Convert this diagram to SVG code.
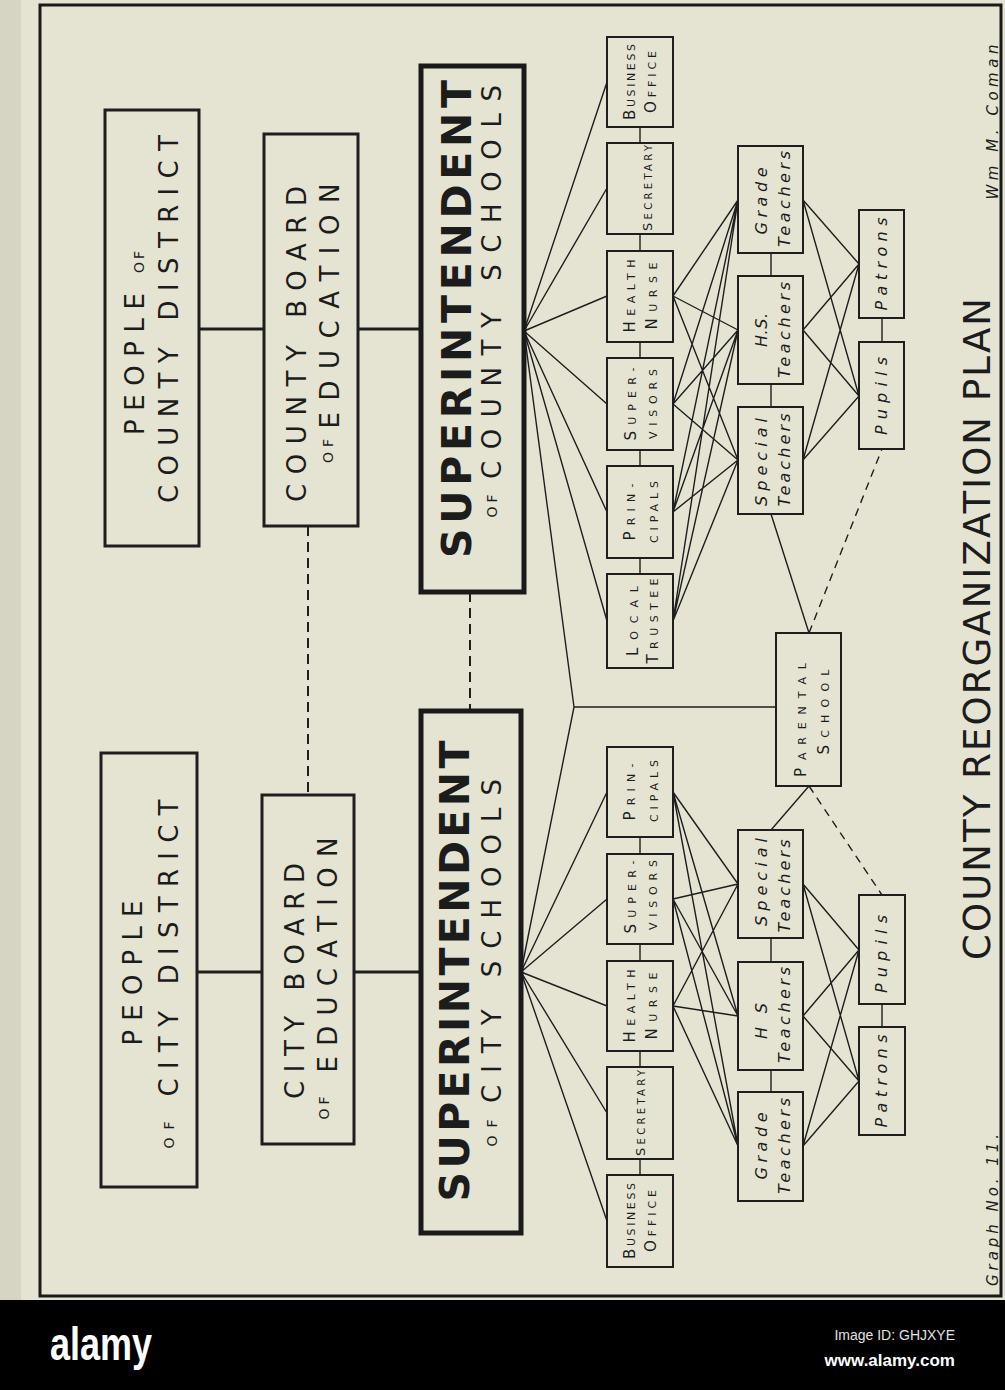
<svg xmlns="http://www.w3.org/2000/svg" width="1005" height="1390" viewBox="0 0 1005 1390">
<style>
text{font-family:"DejaVu Sans","Liberation Sans",sans-serif;fill:#1c1c1c;text-anchor:middle}
.big{font-size:26px}
.of{font-size:14px}
.sup{font-size:41px;font-weight:bold}
.sc{font-size:11px}
.ic{font-size:15px}
.it{font-size:16px;font-style:italic}
.sig{font-size:15px;font-style:italic}
.ttl{font-size:37px}
.box{fill:none;stroke:#1e1e1e;stroke-width:2}
.bbox{fill:none;stroke:#1e1e1e;stroke-width:3}
.sbox{fill:none;stroke:#1a1a1a;stroke-width:5}
.ln{stroke:#1e1e1e;stroke-width:1.4;fill:none}
.thk{stroke:#1e1e1e;stroke-width:3;fill:none}
.dash{stroke:#1e1e1e;stroke-width:2;stroke-dasharray:10 6;fill:none}
.dash2{stroke:#1e1e1e;stroke-width:1.4;stroke-dasharray:8 6;fill:none}
</style>
<rect x="0" y="0" width="1005" height="1390" fill="#e5e4d3"/>
<rect x="0" y="0" width="21" height="1300" fill="#d6d4c3"/>
<rect x="40" y="5" width="961" height="1291" fill="none" stroke="#1a1a1a" stroke-width="3"/>

<g id="connectors">
  <line class="thk" x1="199" y1="329" x2="264" y2="329"/>
  <line class="thk" x1="358" y1="329" x2="421" y2="329"/>
  <line class="thk" x1="197" y1="972" x2="262" y2="972"/>
  <line class="thk" x1="354" y1="972" x2="421" y2="972"/>
  <line class="dash" x1="308" y1="526" x2="308" y2="795"/>
  <line class="dash" x1="470" y1="592" x2="470" y2="711"/>
  <!-- county fan -->
  <path class="ln" d="M524 331L607 82M524 331L607 188M524 331L607 296M524 331L607 404M524 331L607 512M524 331L607 621M524 331L574 707"/>
  <!-- city fan -->
  <path class="ln" d="M521 972L607 792M521 972L607 899M521 972L607 1006M521 972L607 1113M521 972L607 1221M521 972L574 707"/>
  <line class="ln" x1="574" y1="707" x2="776" y2="707"/>
  <!-- column chains -->
  <path class="ln" d="M640 127V143M640 234V251M640 342V358M640 450V466M640 558V574M640 837V854M640 944V961M640 1051V1067M640 1159V1175"/>
  <path class="ln" d="M771 253V276M771 384V407M771 938V962M771 1070V1092M882 318V342M882 1004V1027"/>
  <!-- county cross links -->
  <path class="ln" d="M673 296L738 200M673 296L738 330M673 296L738 460M673 404L738 200M673 404L738 330M673 404L738 460M673 512L738 200M673 512L738 330M673 512L738 460M673 621L738 200M673 621L738 330M673 621L738 460"/>
  <path class="ln" d="M803 200L859 264M803 200L859 396M803 330L859 264M803 330L859 396M803 460L859 264M803 460L859 396"/>
  <!-- city cross links -->
  <path class="ln" d="M673 792L738 884M673 792L738 1016M673 792L738 1146M673 899L738 884M673 899L738 1016M673 899L738 1146M673 1006L738 884M673 1006L738 1016M673 1006L738 1146"/>
  <path class="ln" d="M803 884L859 950M803 884L859 1081M803 1016L859 950M803 1016L859 1081M803 1146L859 950M803 1146L859 1081"/>
  <!-- parental school -->
  <line class="ln" x1="771" y1="514" x2="809" y2="633"/>
  <line class="dash2" x1="809" y1="633" x2="882" y2="449"/>
  <line class="ln" x1="809" y1="786" x2="771" y2="830"/>
  <line class="dash2" x1="809" y1="786" x2="882" y2="895"/>
</g>

<g id="people-county">
  <rect class="bbox" x="105" y="110" width="94" height="436"/>
  <text class="big" transform="translate(144,364) rotate(-90)" textLength="142">PEOPLE</text>
  <text class="of" transform="translate(144,262) rotate(-90)" textLength="22">OF</text>
  <text class="big" transform="translate(178,319) rotate(-90)" textLength="368">COUNTY DISTRICT</text>
</g>
<g id="county-board">
  <rect class="bbox" x="264" y="134" width="94" height="392"/>
  <text class="big" transform="translate(306,344) rotate(-90)" textLength="316">COUNTY BOARD</text>
  <text class="of" transform="translate(333,451) rotate(-90)" textLength="24">OF</text>
  <text class="big" transform="translate(339,306) rotate(-90)" textLength="245">EDUCATION</text>
</g>
<g id="county-superintendent">
  <rect class="sbox" x="421" y="66" width="103" height="526"/>
  <text class="sup" transform="translate(471,319) rotate(-90)" textLength="478">SUPERINTENDENT</text>
  <text class="of" transform="translate(497,506) rotate(-90)" textLength="23">OF</text>
  <text class="big" transform="translate(501,282) rotate(-90)" textLength="394">COUNTY SCHOOLS</text>
</g>
<g id="people-city">
  <rect class="bbox" x="101" y="753" width="96" height="434"/>
  <text class="big" transform="translate(142,973) rotate(-90)" textLength="145">PEOPLE</text>
  <text class="of" transform="translate(174,1135) rotate(-90)" textLength="27">OF</text>
  <text class="big" transform="translate(178,948) rotate(-90)" textLength="297">CITY DISTRICT</text>
</g>
<g id="city-board">
  <rect class="bbox" x="262" y="795" width="92" height="349"/>
  <text class="big" transform="translate(304,981) rotate(-90)" textLength="236">CITY BOARD</text>
  <text class="of" transform="translate(329,1108) rotate(-90)" textLength="23">OF</text>
  <text class="big" transform="translate(337,955) rotate(-90)" textLength="235">EDUCATION</text>
</g>
<g id="city-superintendent">
  <rect class="sbox" x="421" y="711" width="100" height="522"/>
  <text class="sup" transform="translate(469,971) rotate(-90)" textLength="461">SUPERINTENDENT</text>
  <text class="of" transform="translate(497,1133) rotate(-90)" textLength="27">OF</text>
  <text class="big" transform="translate(501,941) rotate(-90)" textLength="324">CITY SCHOOLS</text>
</g>

<!-- county column 1 -->
<g id="county-business-office">
  <rect class="box" x="607" y="37" width="66" height="90"/>
  <text class="sc" transform="translate(635,82) rotate(-90)" textLength="76"><tspan class="ic">B</tspan>USINESS</text>
  <text class="sc" transform="translate(656,82) rotate(-90)" textLength="62"><tspan class="ic">O</tspan>FFICE</text>
</g>
<g id="county-secretary">
  <rect class="box" x="607" y="143" width="66" height="91"/>
  <text class="sc" style="font-size:10px" transform="translate(652,188) rotate(-90)" textLength="86"><tspan style="font-size:13px">S</tspan>ECRETARY</text>
</g>
<g id="county-health-nurse">
  <rect class="box" x="607" y="251" width="66" height="91"/>
  <text class="sc" transform="translate(635,296) rotate(-90)" textLength="73"><tspan class="ic">H</tspan>EALTH</text>
  <text class="sc" transform="translate(657,296) rotate(-90)" textLength="67"><tspan class="ic">N</tspan>URSE</text>
</g>
<g id="county-supervisors">
  <rect class="box" x="607" y="358" width="66" height="92"/>
  <text class="sc" transform="translate(636,404) rotate(-90)" textLength="73"><tspan class="ic">S</tspan>UPER-</text>
  <text class="sc" transform="translate(657,404) rotate(-90)" textLength="70">VISORS</text>
</g>
<g id="county-principals">
  <rect class="box" x="607" y="466" width="66" height="92"/>
  <text class="sc" transform="translate(635,512) rotate(-90)" textLength="57"><tspan class="ic">P</tspan>RIN-</text>
  <text class="sc" transform="translate(658,512) rotate(-90)" textLength="62">CIPALS</text>
</g>
<g id="county-local-trustee">
  <rect class="box" x="607" y="574" width="66" height="94"/>
  <text class="sc" transform="translate(638,621) rotate(-90)" textLength="70"><tspan class="ic">L</tspan>OCAL</text>
  <text class="sc" transform="translate(658,621) rotate(-90)" textLength="85"><tspan class="ic">T</tspan>RUSTEE</text>
</g>

<!-- county column 2 -->
<g id="county-grade-teachers">
  <rect class="box" x="738" y="146" width="65" height="107"/>
  <text class="it" transform="translate(767,201) rotate(-90)" textLength="67">Grade</text>
  <text class="it" transform="translate(790,199) rotate(-90)" textLength="96">Teachers</text>
</g>
<g id="county-hs-teachers">
  <rect class="box" x="738" y="276" width="65" height="108"/>
  <text class="it" transform="translate(767,330) rotate(-90)" textLength="34">H.S.</text>
  <text class="it" transform="translate(790,330) rotate(-90)" textLength="96">Teachers</text>
</g>
<g id="county-special-teachers">
  <rect class="box" x="738" y="407" width="65" height="107"/>
  <text class="it" transform="translate(767,462) rotate(-90)" textLength="88">Special</text>
  <text class="it" transform="translate(790,460) rotate(-90)" textLength="93">Teachers</text>
</g>
<!-- county column 3 -->
<g id="county-patrons">
  <rect class="box" x="859" y="210" width="45" height="108"/>
  <text class="it" transform="translate(887,264) rotate(-90)" textLength="93">Patrons</text>
</g>
<g id="county-pupils">
  <rect class="box" x="859" y="342" width="45" height="107"/>
  <text class="it" transform="translate(887,396) rotate(-90)" textLength="78">Pupils</text>
</g>

<g id="parental-school">
  <rect class="box" x="776" y="633" width="65" height="153"/>
  <text class="sc" transform="translate(806,720) rotate(-90)" textLength="114"><tspan class="ic">P</tspan>ARENTAL</text>
  <text class="sc" transform="translate(829,712) rotate(-90)" textLength="85"><tspan class="ic">S</tspan>CHOOL</text>
</g>

<!-- city column 1 -->
<g id="city-principals">
  <rect class="box" x="607" y="747" width="66" height="90"/>
  <text class="sc" transform="translate(635,792) rotate(-90)" textLength="57"><tspan class="ic">P</tspan>RIN-</text>
  <text class="sc" transform="translate(658,791) rotate(-90)" textLength="62">CIPALS</text>
</g>
<g id="city-supervisors">
  <rect class="box" x="607" y="854" width="66" height="90"/>
  <text class="sc" transform="translate(636,897) rotate(-90)" textLength="73"><tspan class="ic">S</tspan>UPER-</text>
  <text class="sc" transform="translate(657,895) rotate(-90)" textLength="70">VISORS</text>
</g>
<g id="city-health-nurse">
  <rect class="box" x="607" y="961" width="66" height="90"/>
  <text class="sc" transform="translate(635,1006) rotate(-90)" textLength="73"><tspan class="ic">H</tspan>EALTH</text>
  <text class="sc" transform="translate(657,1006) rotate(-90)" textLength="67"><tspan class="ic">N</tspan>URSE</text>
</g>
<g id="city-secretary">
  <rect class="box" x="607" y="1067" width="66" height="92"/>
  <text class="sc" style="font-size:10px" transform="translate(645,1113) rotate(-90)" textLength="86"><tspan style="font-size:13px">S</tspan>ECRETARY</text>
</g>
<g id="city-business-office">
  <rect class="box" x="607" y="1175" width="66" height="92"/>
  <text class="sc" transform="translate(635,1221) rotate(-90)" textLength="76"><tspan class="ic">B</tspan>USINESS</text>
  <text class="sc" transform="translate(656,1221) rotate(-90)" textLength="62"><tspan class="ic">O</tspan>FFICE</text>
</g>

<!-- city column 2 -->
<g id="city-special-teachers">
  <rect class="box" x="738" y="830" width="65" height="108"/>
  <text class="it" transform="translate(767,882) rotate(-90)" textLength="88">Special</text>
  <text class="it" transform="translate(790,886) rotate(-90)" textLength="93">Teachers</text>
</g>
<g id="city-hs-teachers">
  <rect class="box" x="738" y="962" width="65" height="108"/>
  <text class="it" transform="translate(767,1021) rotate(-90)" textLength="36">H S</text>
  <text class="it" transform="translate(790,1015) rotate(-90)" textLength="96">Teachers</text>
</g>
<g id="city-grade-teachers">
  <rect class="box" x="738" y="1092" width="65" height="109"/>
  <text class="it" transform="translate(767,1146) rotate(-90)" textLength="67">Grade</text>
  <text class="it" transform="translate(790,1146) rotate(-90)" textLength="96">Teachers</text>
</g>
<!-- city column 3 -->
<g id="city-pupils">
  <rect class="box" x="859" y="895" width="46" height="109"/>
  <text class="it" transform="translate(887,954) rotate(-90)" textLength="78">Pupils</text>
</g>
<g id="city-patrons">
  <rect class="box" x="859" y="1027" width="46" height="108"/>
  <text class="it" transform="translate(887,1081) rotate(-90)" textLength="93">Patrons</text>
</g>

<g id="captions">
  <text class="ttl" transform="translate(990,629) rotate(-90)" textLength="662">COUNTY REORGANIZATION PLAN</text>
  <text class="sig" transform="translate(998,122) rotate(-90)" textLength="155">Wm M. Coman</text>
  <text class="sig" transform="translate(998,1210) rotate(-90)" textLength="152">Graph No. 11.</text>
</g>

<g id="footer">
  <rect x="0" y="1300" width="1005" height="90" fill="#000"/>
  <text x="101" y="1360" style="font-family:'Liberation Sans',sans-serif;font-size:46px;font-weight:bold;fill:#fff" textLength="102" lengthAdjust="spacingAndGlyphs">alamy</text>
  <text x="955" y="1340" style="font-family:'Liberation Sans',sans-serif;font-size:14px;fill:#e0e0e0;text-anchor:end">Image ID: GHJXYE</text>
  <text x="955" y="1366" style="font-family:'Liberation Sans',sans-serif;font-size:17px;font-weight:bold;fill:#fff;text-anchor:end">www.alamy.com</text>
</g>
</svg>
